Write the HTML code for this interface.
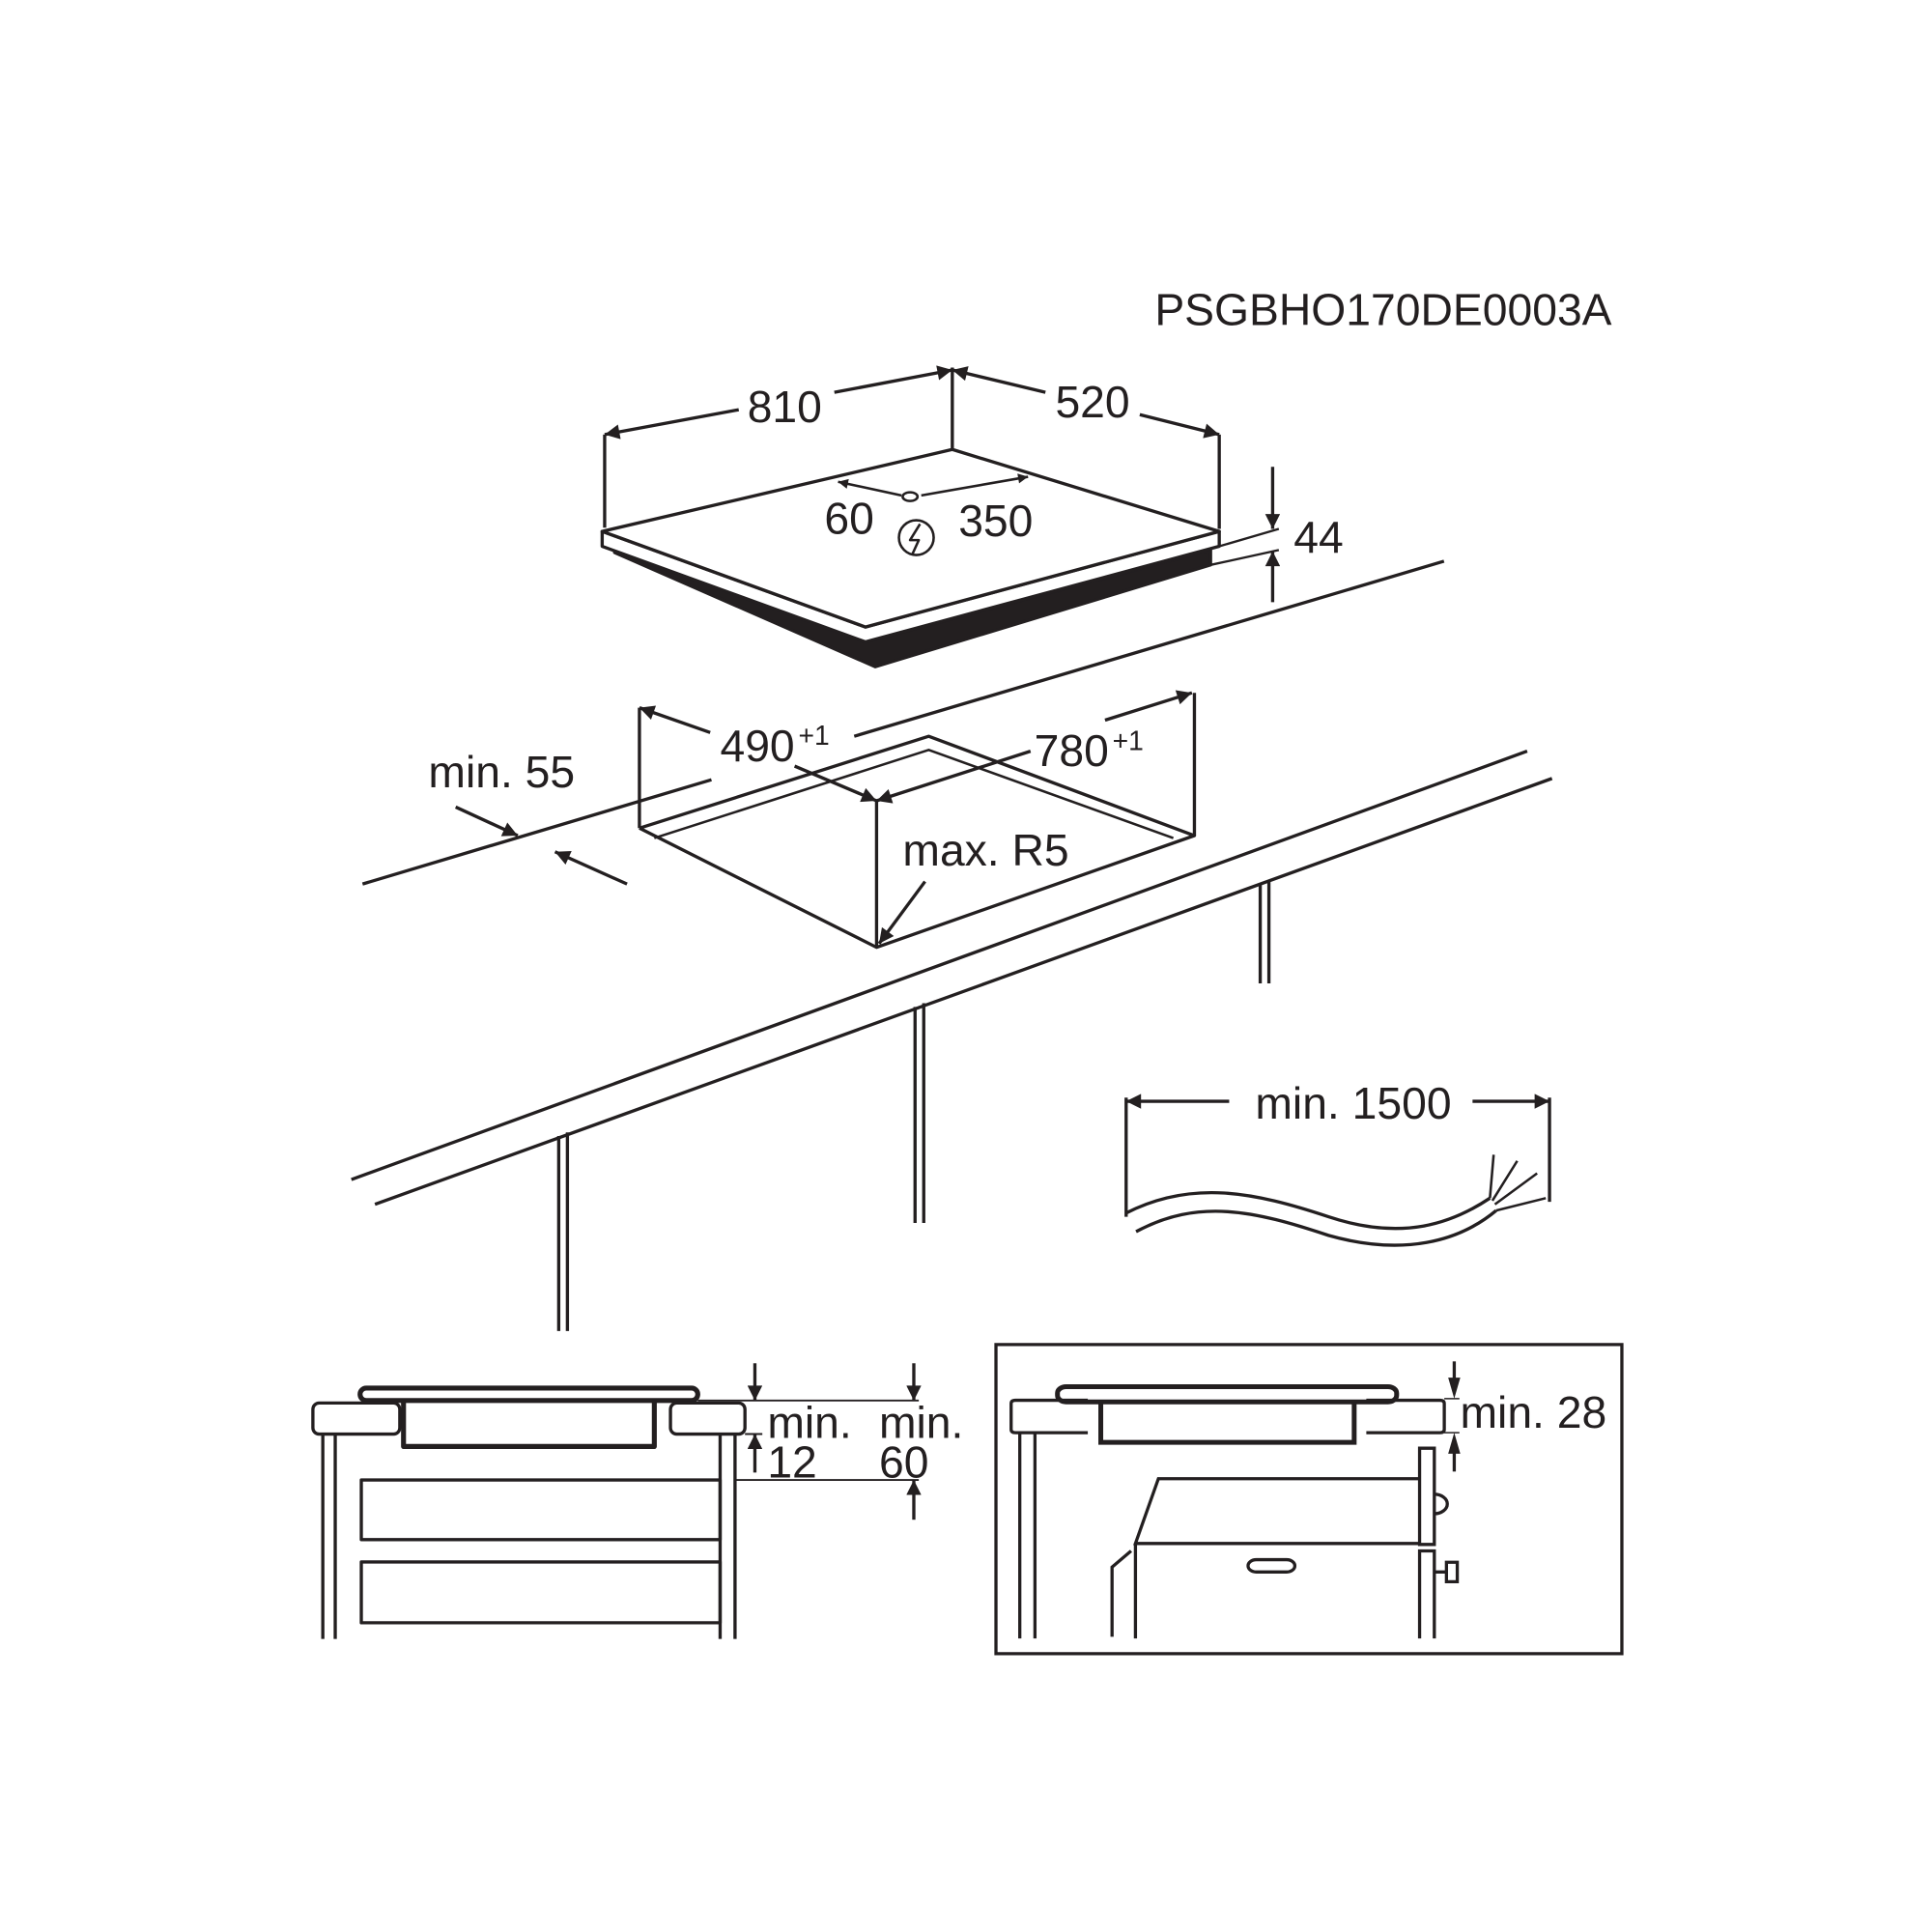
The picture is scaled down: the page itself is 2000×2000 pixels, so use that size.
<!DOCTYPE html>
<html><head><style>html,body{margin:0;padding:0;background:#fff}svg{display:block}</style></head>
<body>
<svg xmlns="http://www.w3.org/2000/svg" width="2000" height="2000" viewBox="0 0 2000 2000">
<defs>
<marker id="a" viewBox="0 0 10 10" refX="10" refY="5" markerWidth="14" markerHeight="8" orient="auto-start-reverse" markerUnits="userSpaceOnUse"><path d="M0,0 L10,5 L0,10 z" fill="#231f20"/></marker>
<marker id="b" viewBox="0 0 10 10" refX="10" refY="5" markerWidth="24" markerHeight="12" orient="auto-start-reverse" markerUnits="userSpaceOnUse"><path d="M0,0 L10,5 L0,10 z" fill="#231f20"/></marker>
</defs>
<g transform="scale(1.2853)" fill="none" stroke="#231f20" stroke-width="2.6" stroke-linejoin="round" font-family="Liberation Sans, sans-serif">
<!-- hob -->
<polygon points="495,445 705,537 975,455 975,443 697,517 495,440" fill="#231f20"/>
<polygon points="485,428 697,505 982,428 982,440 697,517 485,440" fill="#fff"/>
<polygon points="485,428 767,362 982,428 697,505" fill="#fff"/>
<line x1="487" y1="350" x2="487" y2="425"/>
<line x1="767" y1="296" x2="767" y2="362"/>
<line x1="982" y1="350" x2="982" y2="426"/>
<line x1="487" y1="350" x2="595" y2="330" marker-start="url(#b)"/>
<line x1="672" y1="316" x2="767" y2="298" marker-end="url(#b)"/>
<line x1="767" y1="298" x2="842" y2="316" marker-start="url(#b)"/>
<line x1="918" y1="334" x2="982" y2="350" marker-end="url(#b)"/>
<line x1="675" y1="388" x2="726" y2="399" marker-start="url(#a)" stroke-width="2"/>
<line x1="742" y1="399" x2="828" y2="384" marker-end="url(#a)" stroke-width="2"/>
<ellipse cx="733" cy="400" rx="6" ry="3.5" stroke-width="2"/>
<circle cx="738" cy="433" r="14" stroke-width="2"/>
<path d="M741,422 L733,435 L740,435 L735,446" stroke-width="2"/>
<line x1="982" y1="440" x2="1030" y2="426" stroke-width="1.8"/>
<line x1="975" y1="455" x2="1030" y2="443" stroke-width="1.8"/>
<line x1="1025" y1="376" x2="1025" y2="426" marker-end="url(#b)"/>
<line x1="1025" y1="485" x2="1025" y2="444" marker-end="url(#b)"/>
<!-- countertop -->
<line x1="292" y1="712" x2="573" y2="628"/>
<line x1="688" y1="593" x2="1163" y2="452"/>
<line x1="283" y1="950" x2="1230" y2="605"/>
<line x1="302" y1="970" x2="1250" y2="627"/>
<!-- cutout -->
<polyline points="515,667 748,593 962,673 706,763 515,667" fill="#fff"/>
<polyline points="527,675 748,604 945,675" stroke-width="2"/>
<line x1="515" y1="570" x2="515" y2="667"/>
<line x1="962" y1="558" x2="962" y2="673"/>
<line x1="706" y1="645" x2="706" y2="763"/>
<line x1="515" y1="570" x2="572" y2="590" marker-start="url(#b)"/>
<line x1="640" y1="617" x2="706" y2="645" marker-end="url(#b)"/>
<line x1="706" y1="645" x2="830" y2="605" marker-start="url(#b)"/>
<line x1="890" y1="580" x2="960" y2="558" marker-end="url(#b)"/>
<line x1="745" y1="710" x2="708" y2="760" marker-end="url(#b)"/>
<line x1="367" y1="650" x2="417" y2="673" marker-end="url(#b)"/>
<line x1="505" y1="712" x2="447" y2="686" marker-end="url(#b)"/>
<!-- legs -->
<line x1="450" y1="915" x2="450" y2="1072"/><line x1="457" y1="912" x2="457" y2="1072"/>
<line x1="737" y1="811" x2="737" y2="985"/><line x1="744" y1="808" x2="744" y2="985"/>
<line x1="1015" y1="712" x2="1015" y2="792"/><line x1="1022" y1="710" x2="1022" y2="792"/>
<!-- cable -->
<line x1="907" y1="887" x2="990" y2="887" marker-start="url(#b)"/>
<line x1="1186" y1="887" x2="1248" y2="887" marker-end="url(#b)"/>
<line x1="907" y1="884" x2="907" y2="980"/>
<line x1="1248" y1="884" x2="1248" y2="968"/>
<path d="M907,977 C960,950 1010,960 1070,980 C1130,1000 1170,985 1200,965"/>
<path d="M915,992 C965,965 1010,975 1070,995 C1130,1012 1175,1000 1205,975"/>
<path d="M1200,965 L1203,930 M1202,967 L1222,935 M1204,970 L1238,945 M1205,975 L1245,965" stroke-width="2"/>
<!-- bottom left -->
<rect x="290" y="1118" width="272" height="10" rx="5" stroke-width="4"/>
<rect x="252" y="1130" width="70" height="25" rx="5"/>
<rect x="540" y="1130" width="60" height="25" rx="5"/>
<path d="M325,1128 V1165 H527 V1128" stroke-width="4"/>
<line x1="260" y1="1155" x2="260" y2="1320"/><line x1="270" y1="1155" x2="270" y2="1320"/>
<line x1="580" y1="1155" x2="580" y2="1320"/><line x1="592" y1="1155" x2="592" y2="1320"/>
<rect x="291" y="1192" width="289" height="48"/>
<rect x="291" y="1258" width="289" height="49"/>
<line x1="562" y1="1128" x2="740" y2="1128" stroke-width="1.5"/>
<line x1="592" y1="1192" x2="740" y2="1192" stroke-width="1.5"/>
<line x1="600" y1="1155" x2="614" y2="1155" stroke-width="1.5"/>
<line x1="608" y1="1098" x2="608" y2="1128" marker-end="url(#b)"/>
<line x1="608" y1="1186" x2="608" y2="1155" marker-end="url(#b)"/>
<line x1="736" y1="1098" x2="736" y2="1128" marker-end="url(#b)"/>
<line x1="736" y1="1224" x2="736" y2="1192" marker-end="url(#b)"/>
<g fill="#231f20" stroke="none" font-size="36">
<text x="930" y="262">PSGBHO170DE0003A</text>
<text x="632" y="340" text-anchor="middle">810</text>
<text x="880" y="336" text-anchor="middle">520</text>
<text x="684" y="430" text-anchor="middle">60</text>
<text x="802" y="432" text-anchor="middle">350</text>
<text x="1062" y="445" text-anchor="middle">44</text>
<text x="580" y="613">490</text><text x="643" y="600" font-size="22">+1</text>
<text x="833" y="617">780</text><text x="896" y="604" font-size="22">+1</text>
<text x="727" y="697">max. R5</text>
<text x="345" y="634">min. 55</text>
<text x="1090" y="901" text-anchor="middle">min. 1500</text>
<text x="618" y="1158">min.</text><text x="618" y="1190">12</text>
<text x="708" y="1158">min.</text><text x="708" y="1190">60</text>
<text x="1176" y="1150">min. 28</text>
</g>
</g>
<!-- bottom right, zoom coords -->
<g transform="translate(1008.6,1359) scale(0.4484,0.3354)" fill="none" stroke="#231f20">
<g stroke-width="3.3" vector-effect="non-scaling-stroke">
<rect x="50" y="98" width="1445" height="954" vector-effect="non-scaling-stroke"/>
<rect x="192" y="228" width="783" height="47" rx="20" stroke-width="5" vector-effect="non-scaling-stroke"/>
<path d="M262,270 H95 Q85,270 85,280 V360 Q85,370 95,370 H262" vector-effect="non-scaling-stroke"/>
<path d="M905,270 H1075 Q1085,270 1085,280 V360 Q1085,370 1075,370 H905" vector-effect="non-scaling-stroke"/>
<path d="M292,275 V400 H877 V275" stroke-width="5" vector-effect="non-scaling-stroke"/>
<line x1="105" y1="370" x2="105" y2="1005" vector-effect="non-scaling-stroke"/><line x1="140" y1="370" x2="140" y2="1005" vector-effect="non-scaling-stroke"/>
<line x1="1085" y1="265" x2="1120" y2="265" stroke-width="1.5" vector-effect="non-scaling-stroke"/>
<line x1="1085" y1="370" x2="1120" y2="370" stroke-width="1.5" vector-effect="non-scaling-stroke"/>
<line x1="1108" y1="150" x2="1108" y2="230" vector-effect="non-scaling-stroke"/>
<polygon points="1094,200 1122,200 1108,265" fill="#231f20" stroke="none"/>
<line x1="1108" y1="420" x2="1108" y2="490" vector-effect="non-scaling-stroke"/>
<polygon points="1094,435 1122,435 1108,370" fill="#231f20" stroke="none"/>
<rect x="1028" y="418" width="34" height="297" vector-effect="non-scaling-stroke"/>
<path d="M1028,1005 V735 H1062 V1005" vector-effect="non-scaling-stroke"/>
<path d="M1062,560 A30,30 0 0 1 1062,620" vector-effect="non-scaling-stroke"/>
<path d="M1062,800 H1090 M1090,770 H1115 V830 H1090 Z" vector-effect="non-scaling-stroke"/>
<path d="M1028,512 H425 L372,712 H1028" vector-effect="non-scaling-stroke"/>
<line x1="372" y1="712" x2="372" y2="1005" vector-effect="non-scaling-stroke"/>
<path d="M362,735 L318,785 V1000" vector-effect="non-scaling-stroke"/>
<rect x="632" y="762" width="108" height="38" rx="19" vector-effect="non-scaling-stroke"/>
</g>
</g>
</svg>
</body></html>
